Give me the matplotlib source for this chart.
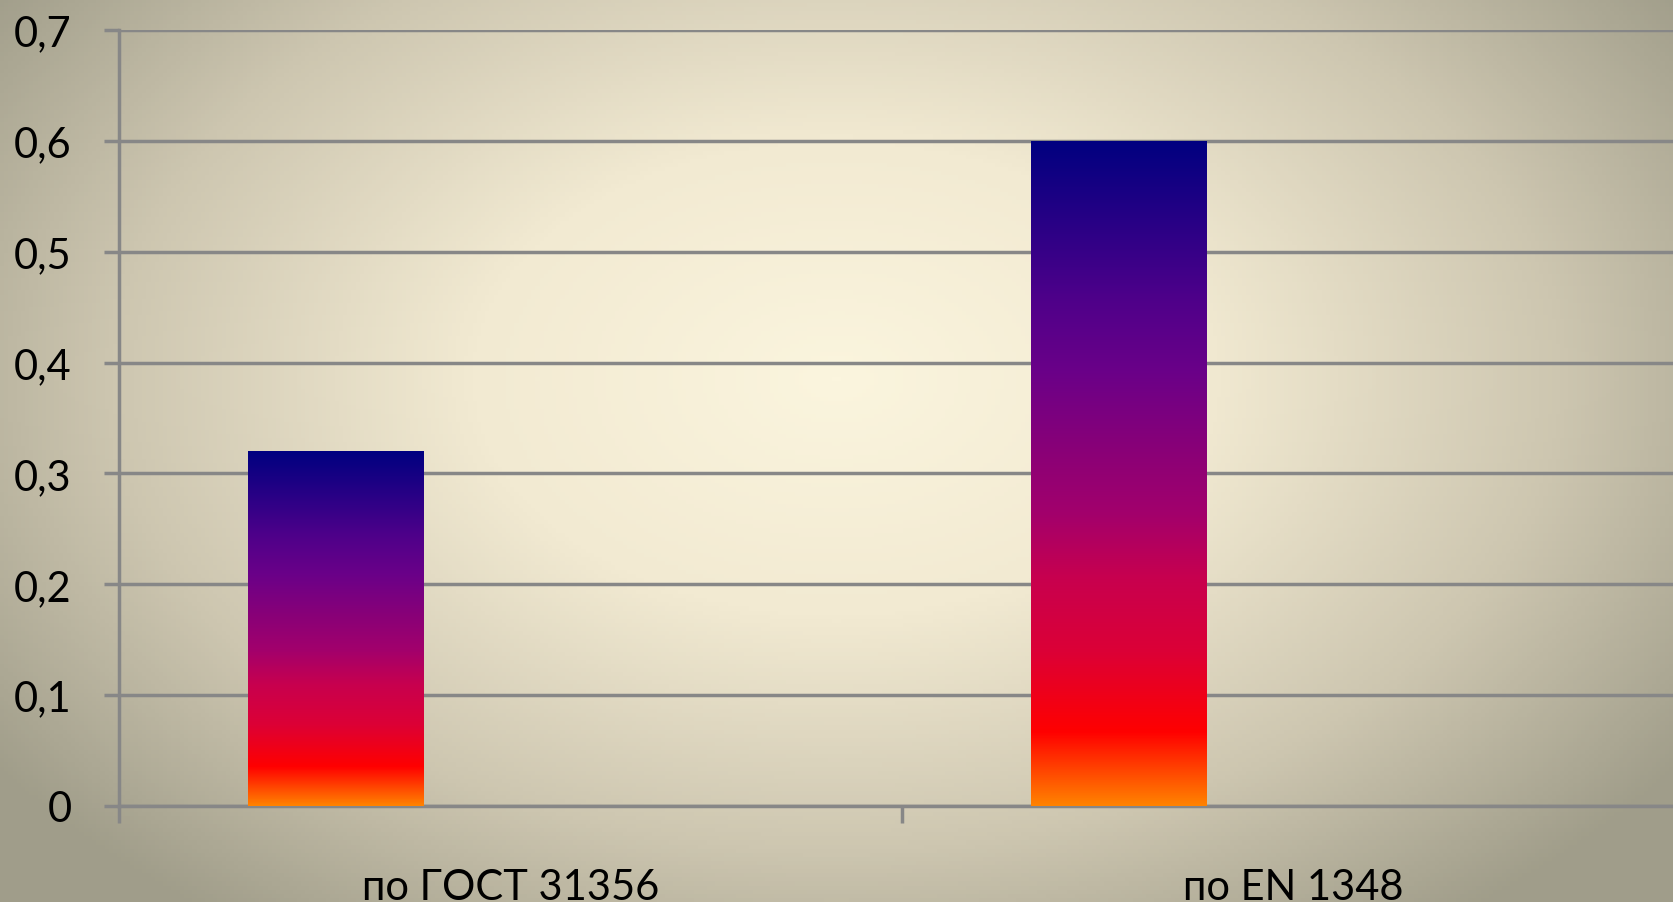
import numpy as np
import matplotlib.pyplot as plt
from matplotlib.colors import LinearSegmentedColormap

# data
categories = ["по ГОСТ 31356", "по EN 1348"]
values = [0.32, 0.60]
yticks = [0, 0.1, 0.2, 0.3, 0.4, 0.5, 0.6, 0.7]
ytick_labels = ["0", "0,1", "0,2", "0,3", "0,4", "0,5", "0,6", "0,7"]

plt.rcParams['font.family'] = ['Lato', 'DejaVu Sans']

fig = plt.figure(figsize=(16.73, 9.03), dpi=100)

# radial background
bg = fig.add_axes([0, 0, 1, 1], zorder=0)
xx, yy = np.meshgrid(np.linspace(0, 1, 400), np.linspace(0, 1, 220))
r = np.sqrt(((xx - 0.50) / 0.62) ** 2 + ((yy - 0.42) / 0.75) ** 2)
r = np.clip(r, 0, 1)
bg_cmap = LinearSegmentedColormap.from_list(
    "bg", [(0, "#fbf5de"), (0.35, "#f2ead2"), (0.7, "#cdc6b0"), (1.0, "#a09d8a")])
bg.imshow(r, cmap=bg_cmap, extent=[0, 1, 0, 1], aspect='auto', origin='upper',
          vmin=0, vmax=1)
bg.axis('off')

ax = fig.add_axes([119 / 1673, 96 / 903, 1566 / 1673, 776 / 903], zorder=1)
ax.patch.set_alpha(0)

bar_cmap = LinearSegmentedColormap.from_list(
    "fire", [(0.0, "#ff8200"), (0.11, "#ff0000"), (0.23, "#dc0036"),
             (0.34, "#c8004e"), (0.44, "#a2006c"), (0.54, "#880078"),
             (0.65, "#6b0088"), (0.76, "#4f008a"), (0.86, "#2e0086"),
             (1.0, "#000080")])

w = 0.2235
x = np.arange(len(categories)) + 0.5
bars = ax.bar(x - w, values, width=w, color='none', edgecolor='none', zorder=3)
grad = np.linspace(1, 0, 256).reshape(-1, 1)
for b in bars:
    x0, h, bw = b.get_x(), b.get_height(), b.get_width()
    im = ax.imshow(grad, cmap=bar_cmap, extent=[x0, x0 + bw, 0, h],
                   aspect='auto', vmin=0, vmax=1, zorder=3)
    im.set_clip_path(b)

ax.set_xlim(0, len(categories))
ax.set_ylim(0, 0.7)

grid_c = "#878787"
ax.set_yticks(yticks)
ax.set_yticklabels(ytick_labels, fontsize=30)
ax.yaxis.grid(True, color=grid_c, linewidth=2.5, zorder=1)
ax.set_axisbelow(True)
ax.tick_params(axis='y', direction='out', length=11, width=2.5, color=grid_c, pad=23)

ax.set_xticks(np.arange(len(categories) + 1))
ax.set_xticklabels([])
ax.set_xticks(x, minor=True)
ax.set_xticklabels(categories, minor=True, fontsize=30)
ax.tick_params(axis='x', which='major', direction='out', length=12, width=2.5, color=grid_c)
ax.tick_params(axis='x', which='minor', length=0, pad=45)

for s in ['top', 'right']:
    ax.spines[s].set_visible(False)
for s in ['left', 'bottom']:
    ax.spines[s].set_color(grid_c)
    ax.spines[s].set_linewidth(2.5)

fig.savefig("out.png", dpi=100)
